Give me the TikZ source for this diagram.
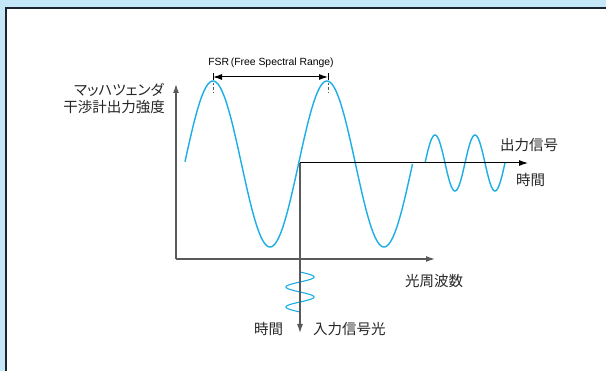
\documentclass[tikz,border=0pt]{standalone}
\usepackage{fontspec}
\setmainfont{Liberation Sans}
\newfontfamily\jp{Noto Sans CJK JP}
\newfontfamily\jpp{Noto Sans CJK JP}[RawFeature=+palt]
\usetikzlibrary{arrows.meta}
\definecolor{bgblue}{HTML}{C5E8F8}
\definecolor{wave}{HTML}{1AAEE6}
\definecolor{axisgray}{HTML}{5A5A5A}
\definecolor{framec}{HTML}{1C2430}
\tikzset{
  axisline/.style={draw=axisgray, line width=1.3pt, -{Latex[length=9pt,width=6pt]}},
  outline/.style={draw=black, line width=1pt, -{Latex[length=9pt,width=6pt]}},
  wavecurve/.style={draw=wave, line width=1.4pt},
  jtext/.style={font=\jp\fontsize{14.5pt}{17pt}\selectfont, inner sep=0pt, text=black!85},
  smalltext/.style={font=\fontsize{10.4pt}{12pt}\selectfont, inner sep=0pt},
  peakmark/.style={draw=axisgray, line width=0.8pt, dash pattern=on 2.5pt off 2pt},
}
\begin{document}
\begin{tikzpicture}[x=1pt,y=-1pt]
\useasboundingbox (0,0) rectangle (606,371);
\fill[bgblue] (0,0) rectangle (606,371);
\fill[white] (6,8) rectangle (612,377);
\draw[framec, line width=1.6pt] (6,377) -- (6,8) -- (612,8);

% coordinates
\coordinate (origin) at (176,259);
\coordinate (ytip) at (176,84);
\coordinate (xtip) at (435,259);
\coordinate (corner) at (300,163);
\coordinate (outtip) at (528,163);
\coordinate (intip) at (300,333);
\coordinate (fsrL) at (213,77);
\coordinate (fsrR) at (328,77);

% main curve
\draw[wavecurve] plot[domain=185:412.5, samples=240, variable=\t] ({\t},{164-83*sin((\t-184.5)/114*360)});
% output signal
\draw[wavecurve] plot[domain=425:505, samples=120, variable=\t] ({\t},{163-28*sin((\t-425)/40*360)});
% input signal
\draw[wavecurve, line width=1.1pt] plot[domain=272:312, samples=120, variable=\t] ({300+14*sin((\t-272)/20*360)},{\t});

% axes
\draw[axisline] (origin) -- (ytip);
\draw[axisline] (origin) -- (xtip);
\draw[axisline, line width=1.1pt] (corner) -- (intip);
\draw[outline] (corner) -- (outtip);

% FSR
\draw[line width=1pt, {Latex[length=9pt,width=6pt]}-{Latex[length=9pt,width=6pt]}] (fsrL) -- (fsrR);
\draw[line width=0.8pt] (fsrL) ++(0,-3.5) -- ++(0,7);
\draw[line width=0.8pt] (fsrR) ++(0,-3.5) -- ++(0,7);
\draw[peakmark] (213,83) -- (213,93);
\draw[peakmark] (328,83) -- (328,93);
\node[smalltext] (fsr) at (271,63) {FSR\,(Free Spectral Range)};

% labels
\node[jtext, anchor=east, font=\jpp\fontsize{14.5pt}{17pt}\selectfont] (ylab1) at (164,90) {マッハツェンダ};
\node[jtext, anchor=east] (ylab2) at (165,107) {干渉計出力強度};
\node[jtext, anchor=west] (outlab) at (500,145) {出力信号};
\node[jtext, anchor=west] (timer) at (516,180) {時間};
\node[jtext, anchor=west] (freq) at (405,281) {光周波数};
\node[jtext, anchor=west] (timeb) at (254,329) {時間};
\node[jtext, anchor=west] (inlab) at (313,329) {入力信号光};
\end{tikzpicture}
\end{document}
